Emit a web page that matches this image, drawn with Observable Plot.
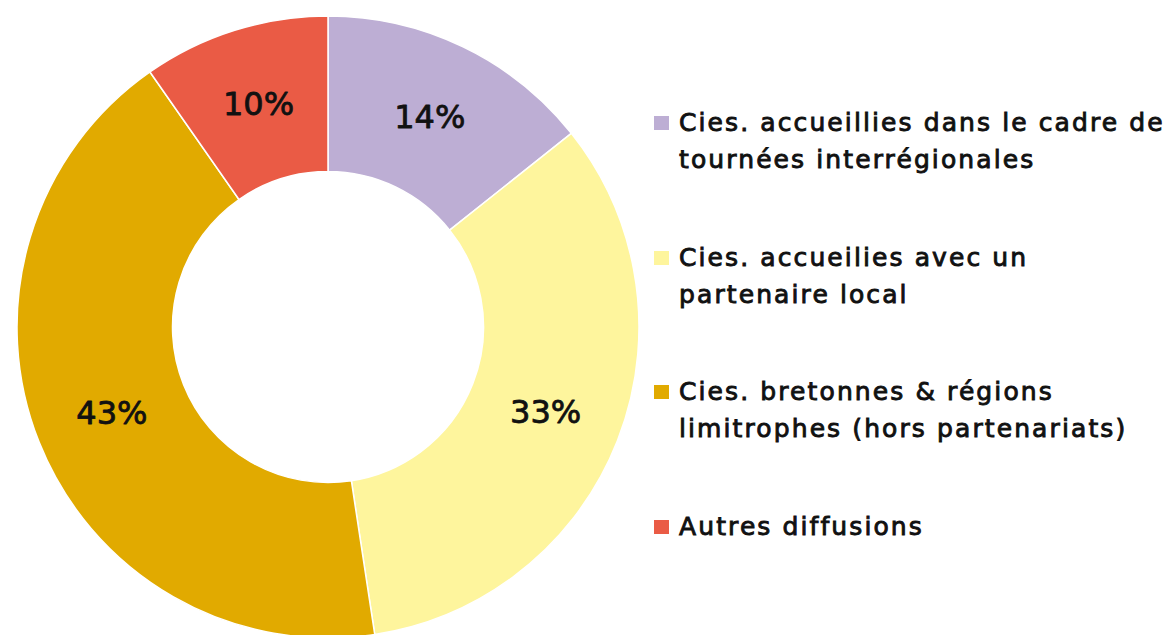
<!DOCTYPE html>
<html>
<head>
<meta charset="utf-8">
<script src="https://cdn.jsdelivr.net/npm/d3@7"></script>
<script src="https://cdn.jsdelivr.net/npm/@observablehq/plot@0.6"></script>
<style>
  html, body { margin: 0; padding: 0; background: #fff; }
  #wrap { position: relative; width: 1173px; height: 635px; overflow: hidden; }
  #chart { position: absolute; left: 0; top: 0; }
  #legend { position: absolute; left: 654px; top: 0; font-family: "DejaVu Sans", sans-serif; font-size: 25px; color: #111; letter-spacing: 2.1px; -webkit-text-stroke: 0.9px #111; }
  .item { position: absolute; left: 0; white-space: nowrap; line-height: 37px; }
  .sw { position: absolute; left: 0; top: 12px; width: 15px; height: 14px; -webkit-text-stroke: 0; }
  .txt { position: absolute; left: 25px; top: 0; }
</style>
</head>
<body>
<div id="wrap">
  <div id="chart"></div>
  <div id="legend"></div>
</div>
<script>
// Data
const categories = [
  "Cies. accueillies dans le cadre de\ntournées interrégionales",
  "Cies. accueilies avec un\npartenaire local",
  "Cies. bretonnes & régions\nlimitrophes (hors partenariats)",
  "Autres diffusions"
];
const values = [14.3, 33.3, 42.7, 9.7];
const labels = ["14%", "33%", "43%", "10%"];
const colors = ["#bdaed4", "#fef59d", "#e1aa00", "#ea5b45"];

const innerRatio = 0.5;

const table = categories.map((c, i) => ({category: c, value: values[i], label: labels[i], color: colors[i]}));
const pie = d3.pie().value(d => d.value).sort(null)(table);
const unitArc = d3.arc().innerRadius(innerRatio).outerRadius(1);
pie.forEach(p => {
  const [cx, cy] = unitArc.centroid(p);
  p.data.cx = cx; p.data.cy = cy;
});

const donutMark = (index, scales, vals, dimensions) => {
  const x0 = scales.x(0), y0 = scales.y(0);
  const r = scales.x(1) - scales.x(0);
  const arc = d3.arc().innerRadius(r * innerRatio).outerRadius(r);
  const g = d3.create("svg:g").attr("transform", `translate(${x0},${y0})`);
  g.selectAll("path").data(pie).join("path")
    .attr("d", arc)
    .attr("fill", d => scales.color(d.data.category))
    .attr("stroke", "#fff")
    .attr("stroke-width", 1.5)
    .attr("stroke-linejoin", "round");
  return g.node();
};

const cx = 328, cy = 327, R = 311;
const plot = Plot.plot({
  width: 660,
  height: 635,
  margin: 0,
  x: {domain: [-1, 1], range: [cx - R, cx + R], axis: null},
  y: {domain: [-1, 1], range: [cy - R, cy + R], axis: null},
  color: {domain: categories, range: colors},
  marks: [
    donutMark,
    Plot.text(pie.map(p => p.data), {
      x: "cx", y: "cy", text: "label",
      fontSize: 32, fill: "#111",
      stroke: "#111", strokeWidth: 0.8,
      fontFamily: "DejaVu Sans"
    })
  ]
});
document.getElementById("chart").appendChild(plot);

// Legend
const legendTops = [104, 239, 373, 508];
const legend = d3.select("#legend");
table.forEach((d, i) => {
  const item = legend.append("div").attr("class", "item").style("top", legendTops[i] + "px");
  item.append("div").attr("class", "sw").style("background", d.color);
  item.append("div").attr("class", "txt").html(d.category.replace("\n", "<br>"));
});
</script>
</body>
</html>
